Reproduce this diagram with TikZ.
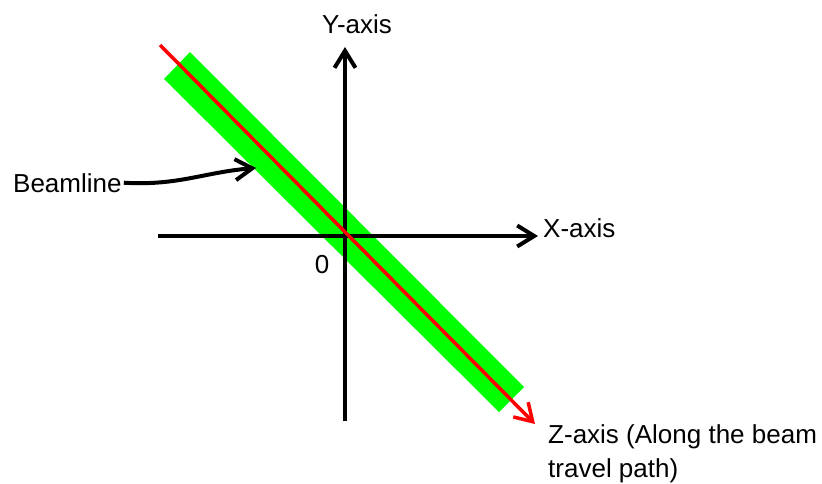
\documentclass[tikz,border=0pt]{standalone}
\usepackage{fontspec}
\setmainfont{Liberation Sans}
\usetikzlibrary{arrows.meta}
\begin{document}
\begin{tikzpicture}[x=1pt,y=-1pt,
  tip/.style={-{Straight Barb[length=17pt,width=21pt,line width=4pt]}},
  axis/.style={line width=4pt,tip},
  lbl/.style={font=\fontsize{26}{32}\selectfont,inner sep=0pt},
  beam/.style={red,line width=3.5pt,-{Straight Barb[length=17pt,width=21pt,line width=3.5pt]}}]
\useasboundingbox (0,0) rectangle (822,483);
% green band
\fill[green] (190,52) -- (524,387) -- (499,412) -- (164,79) -- cycle;
% axes
\coordinate (xs) at (158,236);
\coordinate (xe) at (538,236);
\coordinate (ys) at (345,421);
\coordinate (ye) at (345,47);
\draw[axis] (xs) -- (xe);
\draw[axis] (ys) -- (ye);
% beam
\coordinate (zs) at (160,45);
\coordinate (ze) at (535,424);
\draw[beam] (zs) -- (ze);
% labels
\node[lbl,anchor=base] (ylab) at (357,33) {Y-axis};
\node[lbl,anchor=base west] (xlab) at (543,237) {X-axis};
\node[lbl,anchor=base] (zero) at (322,273) {0};
\node[lbl,anchor=base west] (bl) at (13,192) {Beamline};
\node[lbl,anchor=base west] (zlab1) at (548,443) {Z-axis (Along the beam};
\node[lbl,anchor=base west] (zlab2) at (548,477) {travel path)};
\coordinate (bt) at (256,168);
\draw[line width=4pt,tip] ([xshift=2pt]bl.east) .. controls (178,186) and (205,172) .. (bt);
\end{tikzpicture}
\end{document}
